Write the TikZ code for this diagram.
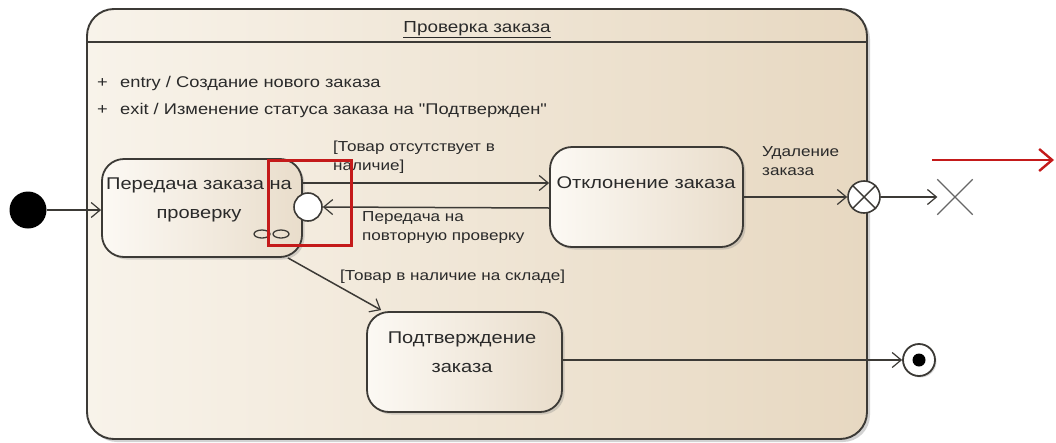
\documentclass[tikz,border=0pt]{standalone}
\usepackage{fontspec}
\setmainfont{Liberation Sans}
\newfontfamily\widefont[FakeStretch=1.18]{Liberation Sans}
\usetikzlibrary{arrows.meta,shapes.misc,shadows,calc}
\definecolor{compL}{HTML}{F8F3EA}
\definecolor{compR}{HTML}{E7D8C1}
\definecolor{stL}{HTML}{FCF9F4}
\definecolor{stR}{HTML}{E9DDCB}
\definecolor{ink}{HTML}{2A2A2A}
\definecolor{edge}{HTML}{3C3A36}
\definecolor{hired}{HTML}{C41A1A}
\begin{document}
\begin{tikzpicture}[x=1pt,y=-1pt,
  every node/.style={text=ink},
  edgeline/.style={draw=edge, line width=1.6pt},
  trans/.style={draw=edge, line width=1.5pt, -{Straight Barb[length=9pt,width=15pt,line width=1.2pt]}},
  compbox/.style={draw=edge, line width=1.9pt, rounded corners=27pt, left color=compL, right color=compR,
     minimum width=780pt, minimum height=430pt, inner sep=0pt,
     drop shadow={shadow xshift=3pt, shadow yshift=-3pt, opacity=0.35}},
  statebox/.style={draw=edge, line width=1.8pt, rounded corners=22pt, left color=stL, right color=stR,
     inner sep=0pt, drop shadow={shadow xshift=2.5pt, shadow yshift=-2.5pt, opacity=0.3}},
  sttext/.style={font=\widefont\fontsize{17}{29}\selectfont, align=center, inner sep=0pt},
  lbl/.style={font=\widefont\fontsize{14.5}{19}\selectfont, align=left, inner sep=0pt, anchor=west},
  act/.style={font=\widefont\fontsize{15.5}{19}\selectfont, inner sep=0pt, anchor=west}
]
\useasboundingbox[fill=white] (0,0) rectangle (1056,442);

% composite state
\node[compbox] (comp) at (477,224) {};
\coordinate (hl) at (87,42);
\coordinate (hr) at (867,42);
\draw[edgeline] (hl) -- (hr);
\node[font=\widefont\fontsize{16}{20}\selectfont, inner sep=0pt] (title) at (477,30) {\underline{Проверка заказа}};
\node[act] (plus1) at (97,83) {+};
\node[act] (entry) at (120,83) {entry / Создание нового заказа};
\node[act] (plus2) at (97,110) {+};
\node[act] (exitact) at (120,110) {exit / Изменение статуса заказа на "Подтвержден"};

% states
\node[statebox, minimum width=200pt, minimum height=98pt] (s1) at (202,208) {};
\node[sttext] (s1t) at (199,200) {Передача заказа на\\проверку};
\node[statebox, minimum width=193pt, minimum height=100pt] (rej) at (646.5,197) {};
\node[sttext] (rejt) at (646,183) {Отклонение заказа};
\node[statebox, minimum width=195pt, minimum height=100pt] (conf) at (464.5,362) {};
\node[sttext] (conft) at (462,352) {Подтверждение\\заказа};

% composite icon
\draw[edge, line width=1.3pt] (262,234) ellipse [x radius=8pt, y radius=4pt];
\draw[edge, line width=1.3pt] (281,234) ellipse [x radius=8pt, y radius=4pt];

% pseudo states
\node[circle, fill=black, minimum size=37pt, inner sep=0pt] (init) at (28,210) {};
\node[circle, draw=edge, line width=1.6pt, fill=white, minimum size=28pt, inner sep=0pt] (entrypt) at (308,207) {};
\node[circle, draw=edge, line width=1.6pt, fill=white, minimum size=32pt, inner sep=0pt] (exitpt) at (864,197) {};
\draw[edge, line width=1.4pt] (exitpt.north east) -- (exitpt.south west);
\draw[edge, line width=1.4pt] (exitpt.north west) -- (exitpt.south east);
\node[cross out, draw=black!60, line width=1.3pt, minimum size=34pt, inner sep=0pt] (term) at (955,197) {};
\node[circle, draw=edge, line width=1.8pt, fill=white, minimum size=32pt, inner sep=0pt,
      drop shadow={shadow xshift=1.5pt, shadow yshift=-1.5pt, opacity=0.3}] (final) at (919,360) {};
\node[circle, fill=black, minimum size=13pt, inner sep=0pt] (finalin) at (final) {};

% transitions
\draw[trans] (init) -- (s1.west |- init);
\coordinate (t1s) at ($(s1.east)+(0,-25)$);
\draw[trans] (t1s) -- (rej.west |- t1s);
\coordinate (t2s) at ($(rej.west)+(0,11)$);
\draw[trans] (t2s) -- (entrypt.east);
\draw[trans] (rej.east |- exitpt) -- (exitpt.west);
\draw[trans] (exitpt.east) -- (term.west);
\coordinate (d1) at ($(s1.south east)+(-15,0)$);
\coordinate (d2) at ($(conf.north west)+(15,-1)$);
\draw[trans] (d1) -- (d2);
\draw[trans] (conf.east |- final) -- (final.west);

% labels
\node[lbl] (l1) at (333,157) {[Товар отсутствует в\\наличие]};
\node[lbl] (l2) at (362,228) {Передача на\\повторную проверку};
\node[lbl] (l3) at (762,161) {Удаление\\заказа};
\node[lbl] (l4) at (340,277) {[Товар в наличие на складе]};

% highlight
\node[draw=hired, line width=3pt, minimum width=83pt, minimum height=85pt, inner sep=0pt] (hlbox) at (309.5,202.5) {};
\coordinate (ra1) at (932,160);
\coordinate (ra2) at (1054,160);
\draw[draw=hired, line width=2.6pt, -{Straight Barb[length=13pt,width=22pt,line width=2.4pt]}] (ra1) -- (ra2);
\end{tikzpicture}
\end{document}
